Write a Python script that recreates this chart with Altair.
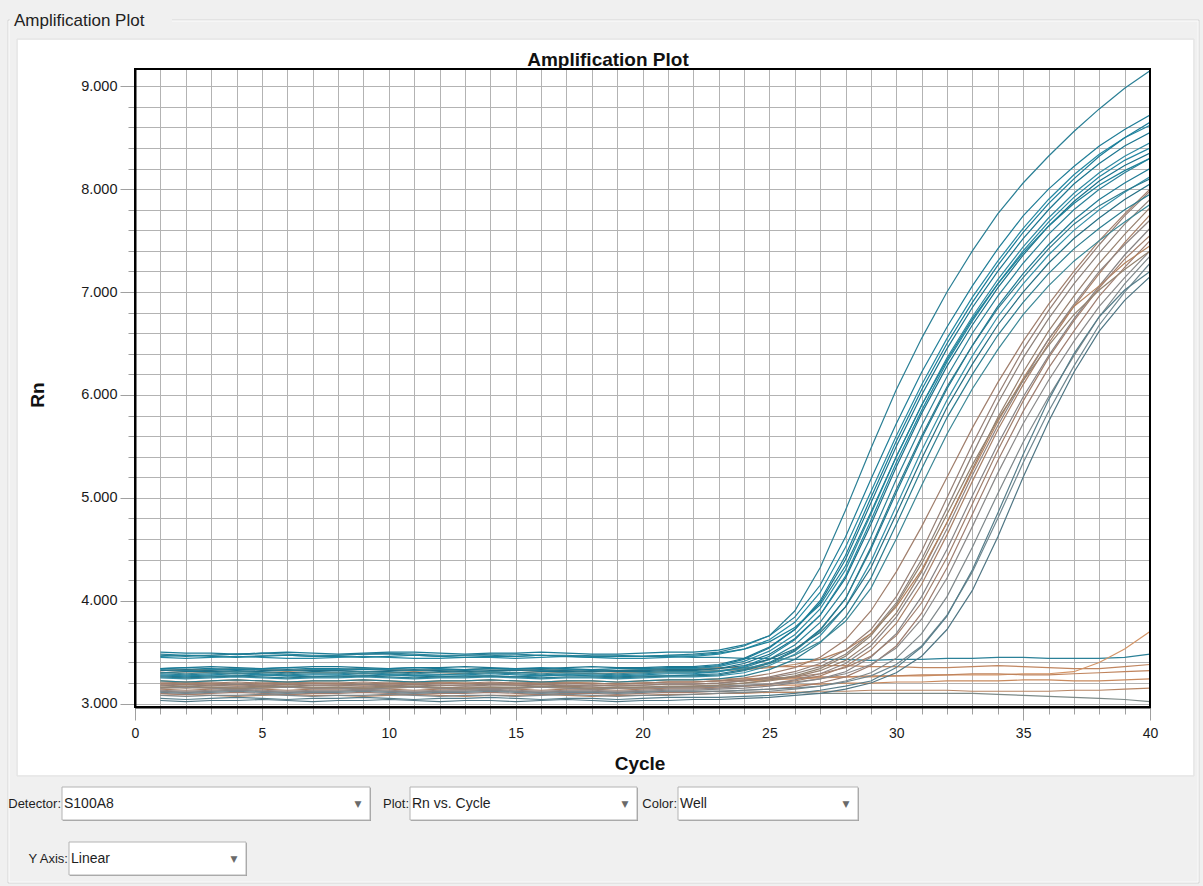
import altair as alt
import pandas as pd

# ---------------- data ----------------
cycles = [1, 2, 3, 4, 5, 6, 7, 8, 9, 10, 11, 12, 13, 14, 15, 16, 17, 18, 19, 20,
          21, 22, 23, 24, 25, 26, 27, 28, 29, 30, 31, 32, 33, 34, 35, 36, 37, 38, 39, 40]

# teal wells (early amplification)
ta01 = [3.47,3.46,3.47,3.48,3.47,3.47,3.46,3.47,3.48,3.48,3.47,3.46,3.47,3.47,3.46,3.47,3.47,3.46,3.46,3.46,3.47,3.48,
        3.50,3.56,3.66,3.90,4.32,4.88,5.48,6.05,6.55,7.00,7.40,7.76,8.06,8.32,8.56,8.78,8.98,9.15]
ta02 = [3.50,3.49,3.49,3.48,3.49,3.50,3.49,3.48,3.49,3.50,3.50,3.49,3.48,3.49,3.49,3.50,3.49,3.48,3.48,3.49,3.50,3.50,
        3.52,3.57,3.66,3.84,4.15,4.62,5.18,5.72,6.22,6.66,7.06,7.42,7.74,8.00,8.22,8.42,8.58,8.72]
ta03 = [3.45,3.44,3.45,3.46,3.45,3.44,3.44,3.45,3.46,3.45,3.44,3.44,3.45,3.45,3.44,3.45,3.46,3.45,3.44,3.44,3.45,3.46,
        3.48,3.53,3.62,3.79,4.08,4.52,5.06,5.60,6.10,6.55,6.95,7.30,7.62,7.90,8.14,8.34,8.50,8.62]
ta04 = [3.34,3.35,3.36,3.35,3.34,3.35,3.36,3.36,3.35,3.34,3.35,3.35,3.36,3.35,3.34,3.34,3.35,3.36,3.35,3.35,3.36,3.36,
        3.38,3.44,3.55,3.72,3.98,4.40,4.95,5.50,6.00,6.45,6.85,7.20,7.52,7.80,8.05,8.25,8.42,8.55]
ta05 = [3.33,3.32,3.33,3.34,3.33,3.32,3.33,3.33,3.34,3.33,3.32,3.33,3.33,3.34,3.33,3.32,3.33,3.33,3.32,3.33,3.34,3.34,
        3.36,3.41,3.51,3.67,3.92,4.30,4.84,5.40,5.90,6.36,6.76,7.12,7.44,7.72,7.96,8.16,8.32,8.45]
ta06 = [3.30,3.31,3.31,3.32,3.31,3.30,3.31,3.32,3.31,3.31,3.30,3.31,3.32,3.31,3.30,3.31,3.31,3.32,3.31,3.31,3.32,3.32,
        3.34,3.39,3.48,3.63,3.86,4.22,4.74,5.30,5.82,6.28,6.68,7.04,7.36,7.64,7.88,8.08,8.23,8.35]
ta07 = [3.29,3.28,3.29,3.30,3.29,3.28,3.29,3.29,3.30,3.29,3.28,3.28,3.29,3.30,3.29,3.28,3.29,3.29,3.28,3.29,3.30,3.30,
        3.31,3.35,3.43,3.57,3.79,4.12,4.62,5.18,5.70,6.18,6.60,6.96,7.28,7.56,7.80,8.00,8.16,8.30]
ta08 = [3.27,3.26,3.27,3.27,3.28,3.27,3.26,3.27,3.27,3.28,3.27,3.26,3.27,3.27,3.26,3.27,3.28,3.27,3.26,3.27,3.27,3.28,
        3.29,3.33,3.40,3.52,3.72,4.02,4.50,5.05,5.58,6.06,6.48,6.86,7.18,7.46,7.70,7.90,8.06,8.20]
ta09 = [3.25,3.24,3.25,3.26,3.25,3.24,3.25,3.25,3.26,3.25,3.24,3.25,3.25,3.26,3.25,3.24,3.25,3.25,3.24,3.25,3.26,3.26,
        3.27,3.30,3.37,3.48,3.66,3.94,4.38,4.92,5.46,5.95,6.38,6.76,7.08,7.36,7.60,7.80,7.97,8.12]
ta10 = [3.32,3.33,3.32,3.31,3.32,3.33,3.32,3.32,3.31,3.32,3.33,3.32,3.31,3.32,3.32,3.33,3.32,3.31,3.32,3.32,3.33,3.33,
        3.34,3.37,3.43,3.53,3.69,3.94,4.32,4.84,5.38,5.88,6.30,6.68,7.00,7.28,7.52,7.72,7.90,8.05]
ta11 = [3.22,3.21,3.22,3.23,3.22,3.21,3.22,3.22,3.23,3.22,3.21,3.22,3.22,3.23,3.22,3.21,3.22,3.22,3.21,3.22,3.23,3.23,
        3.24,3.27,3.33,3.43,3.59,3.84,4.22,4.74,5.28,5.78,6.20,6.58,6.90,7.18,7.42,7.62,7.80,7.95]
ta12 = [3.34,3.35,3.34,3.33,3.34,3.35,3.34,3.34,3.33,3.34,3.35,3.34,3.33,3.34,3.34,3.35,3.34,3.33,3.34,3.34,3.35,3.35,
        3.37,3.43,3.54,3.72,4.00,4.44,5.00,5.55,6.05,6.50,6.90,7.26,7.58,7.86,8.10,8.32,8.50,8.65]
ta13 = [3.30,3.29,3.30,3.31,3.30,3.29,3.30,3.30,3.31,3.30,3.29,3.30,3.30,3.31,3.30,3.29,3.30,3.30,3.29,3.30,3.31,3.31,
        3.32,3.34,3.39,3.47,3.60,3.80,4.12,4.60,5.12,5.62,6.06,6.44,6.78,7.06,7.30,7.50,7.68,7.85]
ta14 = [3.28,3.27,3.28,3.29,3.28,3.27,3.28,3.28,3.29,3.28,3.27,3.28,3.28,3.29,3.28,3.27,3.28,3.28,3.27,3.28,3.29,3.29,
        3.31,3.36,3.46,3.62,3.86,4.24,4.78,5.34,5.85,6.32,6.72,7.08,7.40,7.68,7.92,8.12,8.28,8.40]
ta15 = [3.26,3.25,3.26,3.27,3.26,3.25,3.26,3.26,3.27,3.26,3.25,3.26,3.26,3.27,3.26,3.25,3.26,3.26,3.25,3.26,3.27,3.27,
        3.28,3.32,3.39,3.51,3.71,4.02,4.52,5.08,5.60,6.08,6.48,6.84,7.14,7.42,7.66,7.84,7.98,8.10]
ta16 = [3.46,3.47,3.46,3.45,3.46,3.47,3.46,3.46,3.45,3.46,3.47,3.46,3.45,3.46,3.46,3.47,3.46,3.45,3.46,3.46,3.47,3.47,
        3.49,3.53,3.60,3.74,3.96,4.34,4.86,5.40,5.90,6.34,6.74,7.08,7.38,7.64,7.86,8.04,8.18,8.30]

# blue-grey wells (latest amplification)
bg01 = [3.05,3.04,3.05,3.06,3.05,3.04,3.05,3.05,3.06,3.05,3.04,3.05,3.05,3.06,3.05,3.04,3.05,3.05,3.04,3.05,3.06,3.06,
        3.06,3.07,3.08,3.10,3.13,3.17,3.22,3.35,3.55,3.85,4.30,4.85,5.42,5.95,6.40,6.76,7.02,7.20]
bg02 = [3.03,3.02,3.03,3.03,3.04,3.03,3.02,3.03,3.03,3.04,3.03,3.02,3.03,3.03,3.02,3.03,3.04,3.03,3.02,3.03,3.03,3.04,
        3.04,3.05,3.06,3.08,3.10,3.14,3.20,3.30,3.46,3.72,4.10,4.62,5.20,5.74,6.22,6.62,6.92,7.15]

# brown / grey wells (later amplification)
br01 = [3.20,3.21,3.20,3.19,3.20,3.21,3.20,3.20,3.19,3.20,3.21,3.20,3.19,3.20,3.20,3.21,3.20,3.19,3.20,3.20,3.21,3.21,
        3.22,3.25,3.29,3.35,3.45,3.62,3.90,4.28,4.72,5.20,5.68,6.12,6.52,6.88,7.20,7.50,7.76,8.00]
br02 = [3.18,3.17,3.18,3.19,3.18,3.17,3.18,3.18,3.19,3.18,3.17,3.18,3.18,3.19,3.18,3.17,3.18,3.18,3.17,3.18,3.19,3.19,
        3.20,3.22,3.25,3.29,3.36,3.48,3.68,3.98,4.40,4.90,5.42,5.92,6.36,6.74,7.08,7.38,7.66,7.90]
br03 = [3.16,3.15,3.16,3.16,3.17,3.16,3.15,3.16,3.16,3.17,3.16,3.15,3.16,3.16,3.15,3.16,3.17,3.16,3.15,3.16,3.16,3.17,
        3.18,3.20,3.22,3.26,3.32,3.42,3.60,3.88,4.28,4.76,5.28,5.78,6.22,6.62,6.96,7.28,7.56,7.82]
br04 = [3.14,3.13,3.14,3.15,3.14,3.13,3.14,3.14,3.15,3.14,3.13,3.14,3.14,3.15,3.14,3.13,3.14,3.14,3.13,3.14,3.15,3.15,
        3.16,3.17,3.19,3.22,3.27,3.36,3.52,3.78,4.16,4.64,5.16,5.66,6.10,6.50,6.86,7.18,7.48,7.75]
br05 = [3.12,3.11,3.12,3.13,3.12,3.11,3.12,3.12,3.13,3.12,3.11,3.12,3.12,3.13,3.12,3.11,3.12,3.12,3.11,3.12,3.13,3.13,
        3.14,3.15,3.17,3.20,3.24,3.31,3.45,3.68,4.04,4.50,5.02,5.52,5.98,6.38,6.74,7.06,7.36,7.62]
br06 = [3.10,3.09,3.10,3.11,3.10,3.09,3.10,3.10,3.11,3.10,3.09,3.10,3.10,3.11,3.10,3.09,3.10,3.10,3.09,3.10,3.11,3.11,
        3.12,3.13,3.14,3.16,3.20,3.26,3.37,3.56,3.88,4.32,4.84,5.36,5.84,6.26,6.62,6.96,7.24,7.50]
br07 = [3.15,3.16,3.15,3.14,3.15,3.16,3.15,3.15,3.14,3.15,3.16,3.15,3.14,3.15,3.15,3.16,3.15,3.14,3.15,3.15,3.16,3.16,
        3.17,3.18,3.19,3.21,3.24,3.29,3.38,3.54,3.82,4.22,4.72,5.24,5.72,6.14,6.52,6.86,7.14,7.40]
br08 = [3.30,3.31,3.30,3.29,3.30,3.31,3.30,3.30,3.29,3.30,3.31,3.30,3.29,3.30,3.30,3.31,3.30,3.29,3.30,3.30,3.31,3.31,
        3.32,3.33,3.35,3.38,3.43,3.52,3.68,3.94,4.30,4.76,5.26,5.74,6.16,6.54,6.86,7.06,7.28,7.45]
br09 = [3.08,3.07,3.08,3.08,3.09,3.08,3.07,3.08,3.08,3.09,3.08,3.07,3.08,3.08,3.07,3.08,3.09,3.08,3.07,3.08,3.08,3.09,
        3.10,3.11,3.12,3.14,3.17,3.22,3.30,3.44,3.68,4.04,4.52,5.04,5.54,5.98,6.38,6.76,7.08,7.35]
br10 = [3.18,3.19,3.18,3.17,3.18,3.19,3.18,3.18,3.17,3.18,3.19,3.18,3.17,3.18,3.18,3.19,3.18,3.17,3.18,3.18,3.19,3.19,
        3.20,3.22,3.26,3.31,3.39,3.52,3.72,4.04,4.48,5.00,5.52,6.00,6.44,6.82,7.16,7.46,7.74,7.98]
br11 = [3.13,3.12,3.13,3.14,3.13,3.12,3.13,3.13,3.14,3.13,3.12,3.13,3.13,3.14,3.13,3.12,3.13,3.13,3.12,3.13,3.14,3.14,
        3.15,3.17,3.19,3.23,3.29,3.39,3.56,3.84,4.22,4.70,5.22,5.70,6.14,6.54,6.88,7.20,7.46,7.70]
br12 = [3.11,3.10,3.11,3.12,3.11,3.10,3.11,3.11,3.12,3.11,3.10,3.11,3.11,3.12,3.11,3.10,3.11,3.11,3.10,3.11,3.12,3.12,
        3.12,3.13,3.14,3.15,3.17,3.21,3.27,3.38,3.56,3.86,4.28,4.80,5.34,5.84,6.28,6.68,7.00,7.28]
br13 = [3.20,3.19,3.20,3.21,3.20,3.19,3.20,3.20,3.21,3.20,3.19,3.20,3.20,3.21,3.20,3.19,3.20,3.20,3.19,3.20,3.21,3.21,
        3.22,3.23,3.24,3.26,3.29,3.35,3.46,3.66,3.98,4.42,4.94,5.46,5.94,6.36,6.72,7.04,7.32,7.55]
br14 = [3.16,3.17,3.16,3.15,3.16,3.17,3.16,3.16,3.15,3.16,3.17,3.16,3.15,3.16,3.16,3.17,3.16,3.15,3.16,3.16,3.17,3.17,
        3.18,3.20,3.23,3.27,3.34,3.46,3.66,3.96,4.36,4.84,5.32,5.76,6.14,6.48,6.78,7.02,7.22,7.40]

# wells that stay flat
fl01 = [3.48,3.47,3.47,3.48,3.49,3.48,3.47,3.47,3.48,3.49,3.48,3.47,3.47,3.48,3.48,3.47,3.46,3.47,3.47,3.46,
        3.46,3.45,3.45,3.44,3.44,3.43,3.43,3.43,3.42,3.43,3.43,3.44,3.44,3.45,3.45,3.44,3.44,3.44,3.45,3.48]
fl02 = [3.32,3.33,3.33,3.34,3.33,3.32,3.33,3.33,3.34,3.33,3.32,3.33,3.33,3.34,3.33,3.32,3.33,3.33,3.32,3.33,
        3.34,3.34,3.35,3.35,3.36,3.36,3.37,3.37,3.36,3.36,3.35,3.35,3.36,3.37,3.36,3.35,3.34,3.34,3.36,3.38]
fl03 = [3.19,3.20,3.19,3.18,3.19,3.20,3.20,3.19,3.18,3.19,3.20,3.21,3.20,3.19,3.19,3.20,3.21,3.20,3.19,3.20,
        3.21,3.21,3.22,3.22,3.23,3.24,3.25,3.26,3.26,3.27,3.27,3.28,3.28,3.28,3.29,3.29,3.31,3.40,3.53,3.70]
fl04 = [3.22,3.21,3.22,3.23,3.22,3.21,3.22,3.22,3.23,3.22,3.21,3.22,3.22,3.23,3.22,3.21,3.22,3.22,3.21,3.22,
        3.23,3.23,3.24,3.24,3.25,3.25,3.26,3.26,3.27,3.27,3.28,3.28,3.29,3.29,3.28,3.28,3.29,3.30,3.31,3.32]
fl05 = [3.15,3.16,3.15,3.14,3.15,3.16,3.15,3.15,3.14,3.15,3.16,3.15,3.14,3.15,3.15,3.16,3.15,3.14,3.15,3.15,
        3.16,3.16,3.17,3.17,3.18,3.18,3.19,3.20,3.20,3.21,3.21,3.22,3.22,3.22,3.23,3.23,3.22,3.22,3.23,3.24]
fl06 = [3.12,3.11,3.12,3.13,3.12,3.11,3.12,3.12,3.13,3.12,3.11,3.12,3.12,3.13,3.12,3.11,3.12,3.12,3.11,3.12,
        3.12,3.12,3.12,3.11,3.11,3.11,3.10,3.10,3.10,3.10,3.10,3.10,3.10,3.09,3.08,3.07,3.06,3.05,3.04,3.02]
fl07 = [3.08,3.09,3.08,3.07,3.08,3.09,3.08,3.08,3.07,3.08,3.09,3.08,3.07,3.08,3.08,3.09,3.08,3.07,3.08,3.08,
        3.09,3.09,3.10,3.10,3.11,3.11,3.12,3.12,3.13,3.13,3.13,3.13,3.12,3.12,3.12,3.12,3.13,3.13,3.14,3.15]

well_names = ["F1", "F2", "F3", "F4", "F5", "F6", "F7",
              "B1", "B2", "B3", "B4", "B5", "B6", "B7", "B8", "B9", "B10", "B11", "B12", "B13", "B14",
              "G1", "G2",
              "T1", "T2", "T3", "T4", "T5", "T6", "T7", "T8", "T9", "T10", "T11", "T12", "T13", "T14", "T15", "T16"]
well_values = [fl01, fl02, fl03, fl04, fl05, fl06, fl07,
               br01, br02, br03, br04, br05, br06, br07, br08, br09, br10, br11, br12, br13, br14,
               bg01, bg02,
               ta01, ta02, ta03, ta04, ta05, ta06, ta07, ta08, ta09, ta10, ta11, ta12, ta13, ta14, ta15, ta16]
well_colors = ["#2b8198", "#c18660", "#d39466", "#bf835c", "#c98a5e", "#7d8a88", "#b78564",
               "#a07e6c", "#8d8079", "#97806f", "#a88068", "#878384", "#9e7d70", "#8a8888", "#b3825f",
               "#7e878a", "#967f75", "#8f8582", "#6f8790", "#a07e6c", "#94826f",
               "#557d8a", "#4f7684",
               "#2a7f95", "#1f7d97", "#2589a3", "#1b7690", "#2f8aa2", "#19718b", "#2a8199", "#1e7a94",
               "#3590a8", "#246f84", "#2c7d90", "#1a7c98", "#3b8796", "#2285a0", "#2b7a8e", "#1d8199"]

x_ticks = [0, 1, 2, 3, 4, 5, 6, 7, 8, 9, 10, 11, 12, 13, 14, 15, 16, 17, 18, 19, 20,
           21, 22, 23, 24, 25, 26, 27, 28, 29, 30, 31, 32, 33, 34, 35, 36, 37, 38, 39, 40]
y_ticks = [3.0, 3.2, 3.4, 3.6, 3.8, 4.0, 4.2, 4.4, 4.6, 4.8, 5.0, 5.2, 5.4, 5.6, 5.8, 6.0,
           6.2, 6.4, 6.6, 6.8, 7.0, 7.2, 7.4, 7.6, 7.8, 8.0, 8.2, 8.4, 8.6, 8.8, 9.0]
y_domain = [2.967, 9.168]
x_domain = [0, 40]

for nm, vals in zip(well_names, well_values):
    if len(vals) != len(cycles):
        raise ValueError(f"{nm} has {len(vals)} values")

rows = []
for nm, vals in zip(well_names, well_values):
    for c, v in zip(cycles, vals):
        rows.append({"well": nm, "cycle": c, "rn": v})
df = pd.DataFrame(rows)

# ---------------- layout ----------------
W, H = 1015, 638
OX, OY = 135, 69
UI_FONT = "Liberation Sans, Arial"
PLOT_FONT = "Liberation Sans, Arial"
one = pd.DataFrame({"k": [0]})


def px(x):
    return x - OX


def py(y):
    return y - OY


def box(x0, y0, x1, y1, fill="transparent", stroke="", sw=1.0):
    kw = dict(fill=fill)
    if stroke:
        kw.update(stroke=stroke, strokeWidth=sw)
    return alt.Chart(one).mark_rect(**kw).encode(
        x=alt.value(px(x0)), x2=alt.value(px(x1)),
        y=alt.value(py(y0)), y2=alt.value(py(y1)))


def label(x, y, s, size=13, weight="normal", align="left", font=UI_FONT,
          color="#1e1e1e", angle=0):
    kw = dict(text=s, fontSize=size, fontWeight=weight, align=align,
              font=font, color=color, baseline="middle")
    if angle:
        kw["angle"] = angle
    return alt.Chart(one).mark_text(**kw).encode(x=alt.value(px(x)), y=alt.value(py(y)))


def combo(label_text, x_label_end, x0, x1, y0, y1, value):
    yc = (y0 + y1) / 2
    return [
        label(x_label_end, yc, label_text, align="right"),
        box(x0 + 1, y0 + 1, x1 + 1, y1 + 1, fill="#a0a0a0"),
        box(x0, y0, x1, y1, fill="white", stroke="#b4b4b4"),
        label(x0 + 2, yc, value, size=14),
        label(x1 - 12, yc, "\u25bc", size=9, align="center", font="DejaVu Sans", color="#6a6a6a"),
    ]


x_axis = alt.Axis(
    values=x_ticks, title=None, grid=True, gridColor="#b3b3b3", gridWidth=1,
    labelExpr="datum.value % 5 == 0 ? datum.label : ''",
    labelFont=PLOT_FONT, labelFontSize=14, labelColor="#1a1a1a", labelPadding=6,
    labelOverlap=False, labelFlush=False,
    tickColor="#a0a0a0",
    tickSize={"condition": {"test": "datum.value % 5 == 0", "value": 13}, "value": 7},
    domainColor="black", domainWidth=2, zindex=0)

y_axis = alt.Axis(
    values=y_ticks, title=None, grid=True, gridColor="#b3b3b3", gridWidth=1,
    labelExpr="abs(datum.value - round(datum.value)) < 0.001 ? format(datum.value, '.3f') : ''",
    labelFont=PLOT_FONT, labelFontSize=14.5, labelColor="#1a1a1a", labelPadding=3,
    labelOverlap=False, labelFlush=False,
    tickColor="#a0a0a0",
    tickSize={"condition": {"test": "abs(datum.value - round(datum.value)) < 0.001", "value": 15}, "value": 7},
    domainColor="black", domainWidth=2, zindex=0)

curves = alt.Chart(df).mark_line(strokeWidth=1.2, clip=True).encode(
    x=alt.X("cycle:Q", scale=alt.Scale(domain=x_domain, nice=False, zero=False), axis=x_axis),
    y=alt.Y("rn:Q", scale=alt.Scale(domain=y_domain, nice=False, zero=False), axis=y_axis),
    color=alt.Color("well:N", scale=alt.Scale(domain=well_names, range=well_colors), legend=None),
    detail="well:N",
)

layers = [curves]

# plot frame
layers.append(box(OX, OY, OX + W, OY + H, stroke="black", sw=2))

# window chrome (grey surroundings of the white panel)
GRAY = "#f0f0f0"
layers += [
    box(0, 0, 1203, 40, fill=GRAY),
    box(0, 0, 18, 886, fill=GRAY),
    box(1193, 0, 1203, 886, fill=GRAY),
    box(0, 775, 1203, 886, fill=GRAY),
    box(8, 20, 1199, 883, stroke="#d6d6d6"),
    box(9, 21, 1198, 882, stroke="#fbfbfb"),
    box(17, 39, 1194, 776, stroke="#e2e2e2"),
    box(10, 10, 172, 32, fill=GRAY),
    label(14, 21, "Amplification Plot", size=17, color="#222222"),
]

# titles
layers += [
    label(608, 60, "Amplification Plot", size=19, weight="bold", align="center", font=PLOT_FONT, color="#111111"),
    label(38, 395, "Rn", size=19, weight="bold", align="center", font=PLOT_FONT, color="#111111", angle=270),
    label(640, 764, "Cycle", size=19, weight="bold", align="center", font=PLOT_FONT, color="#111111"),
]

# bottom controls
layers += combo("Detector:", 61, 62, 370, 787, 820, "S100A8")
layers += combo("Plot:", 409, 410, 637, 787, 820, "Rn vs. Cycle")
layers += combo("Color:", 677, 678, 858, 787, 820, "Well")
layers += combo("Y Axis:", 68, 69, 246, 842, 875, "Linear")

chart = alt.layer(*layers).properties(
    width=W, height=H,
    autosize=alt.AutoSizeParams(type="none"),
    padding={"left": OX, "top": OY, "right": 1203 - OX - W, "bottom": 886 - OY - H},
    background="white",
).configure_view(stroke="transparent")

chart.save("out.html", embed_options={"renderer": "svg", "actions": False})
